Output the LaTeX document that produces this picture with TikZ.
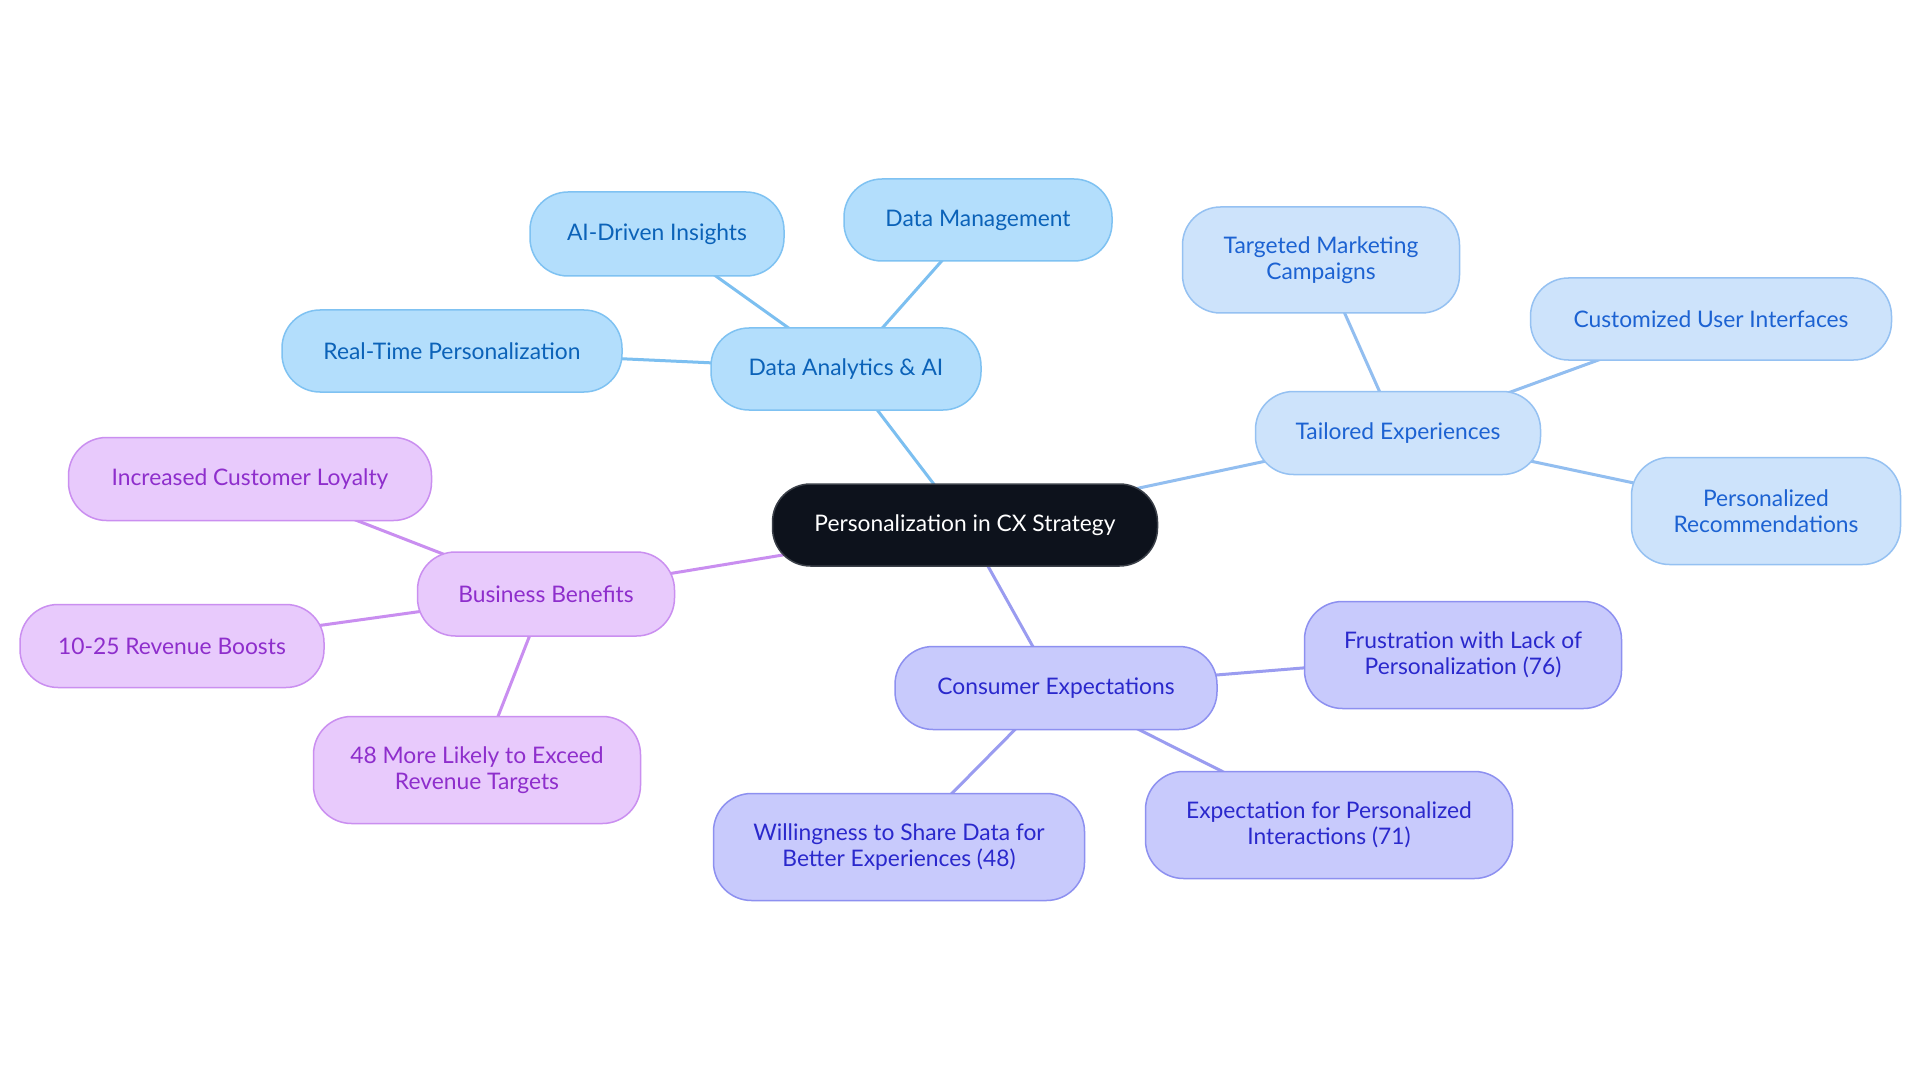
\documentclass[tikz,border=0pt]{standalone}
\usepackage{fontspec}
\setmainfont{Lato}
\usetikzlibrary{backgrounds}
\definecolor{ctrfill}{HTML}{0D121C}
\definecolor{ctrdraw}{HTML}{3A3F48}
\definecolor{bAfill}{HTML}{B3DEFC}
\definecolor{bAdraw}{HTML}{7FC2F2}
\definecolor{bAtext}{HTML}{0B62B8}
\definecolor{bAline}{HTML}{7CBFF0}
\definecolor{bBfill}{HTML}{CDE3FB}
\definecolor{bBdraw}{HTML}{95C1F2}
\definecolor{bBtext}{HTML}{1C62D2}
\definecolor{bBline}{HTML}{92BEF0}
\definecolor{pfill}{HTML}{E8CAFC}
\definecolor{pdraw}{HTML}{CA8FF0}
\definecolor{ptext}{HTML}{8E2ECC}
\definecolor{pline}{HTML}{C98EF0}
\definecolor{vfill}{HTML}{C8CAFC}
\definecolor{vdraw}{HTML}{8D90F0}
\definecolor{vtext}{HTML}{2A28CC}
\definecolor{vline}{HTML}{9A9CF0}
\tikzset{
  box/.style={rounded corners=38pt, line width=1.5pt, align=center, inner sep=0pt,
    font=\fontsize{22.8}{25.5}\selectfont},
  ctr/.style={box, fill=ctrfill, draw=ctrdraw, text=white},
  blueA/.style={box, fill=bAfill, draw=bAdraw, text=bAtext},
  blueB/.style={box, fill=bBfill, draw=bBdraw, text=bBtext},
  purp/.style={box, fill=pfill, draw=pdraw, text=ptext},
  viol/.style={box, fill=vfill, draw=vdraw, text=vtext},
  edge/.style={line width=3pt},
  sz/.style 2 args={minimum width=#1pt, minimum height=#2pt}
}
\begin{document}
\begin{tikzpicture}[x=1pt,y=-1pt]
\useasboundingbox (0,0) rectangle (1920,1083);
\node[ctr, sz={385}{82}] (c) at (965,525) {Personalization in CX Strategy};
\node[blueA, sz={270}{82}] (da) at (846,369) {Data Analytics \& AI};
\node[blueA, sz={254}{84}] (ai) at (657,234) {AI-Driven Insights};
\node[blueA, sz={268}{82}] (dm) at (978,220) {Data Management};
\node[blueA, sz={340}{82}] (rt) at (452,351) {Real-Time Personalization};
\node[blueB, sz={285}{83}] (te) at (1398,433) {Tailored Experiences};
\node[blueB, sz={277}{106}] (tm) at (1321,260) {Targeted Marketing\\Campaigns};
\node[blueB, sz={361}{82}] (cu) at (1711,319) {Customized User Interfaces};
\node[blueB, sz={269}{107}] (pr) at (1766,511) {Personalized\\Recommendations};
\node[purp, sz={257}{84}] (bb) at (546,594) {Business Benefits};
\node[purp, sz={363}{83}] (il) at (250,479) {Increased Customer Loyalty};
\node[purp, sz={304}{83}] (rb) at (172,646) {10-25 Revenue Boosts};
\node[purp, sz={327}{107}] (ml) at (477,770) {48 More Likely to Exceed\\Revenue Targets};
\node[viol, sz={322}{83}] (ce) at (1056,688) {Consumer Expectations};
\node[viol, sz={317}{107}] (fr) at (1463,655) {Frustration with Lack of\\Personalization (76)};
\node[viol, sz={367}{107}] (ep) at (1329,825) {Expectation for Personalized\\Interactions (71)};
\node[viol, sz={371}{107}] (ws) at (899,847) {Willingness to Share Data for\\Better Experiences (48)};
\begin{scope}[on background layer]
\fill[white] (0,0) rectangle (1920,1083);
\draw[edge, bAline] (c.center) -- (da.center);
\draw[edge, bAline] (da.center) -- (ai.center);
\draw[edge, bAline] (da.center) -- (dm.center);
\draw[edge, bAline] (da.center) -- (rt.center);
\draw[edge, bBline] (c.center) -- (te.center);
\draw[edge, bBline] (te.center) -- (tm.center);
\draw[edge, bBline] (te.center) -- (cu.center);
\draw[edge, bBline] (te.center) -- (pr.center);
\draw[edge, pline] (c.center) -- (bb.center);
\draw[edge, pline] (bb.center) -- (il.center);
\draw[edge, pline] (bb.center) -- (rb.center);
\draw[edge, pline] (bb.center) -- (ml.center);
\draw[edge, vline] (c.center) -- (ce.center);
\draw[edge, vline] (ce.center) -- (fr.center);
\draw[edge, vline] (ce.center) -- (ep.center);
\draw[edge, vline] (ce.center) -- (ws.center);
\end{scope}
\end{tikzpicture}
\end{document}
